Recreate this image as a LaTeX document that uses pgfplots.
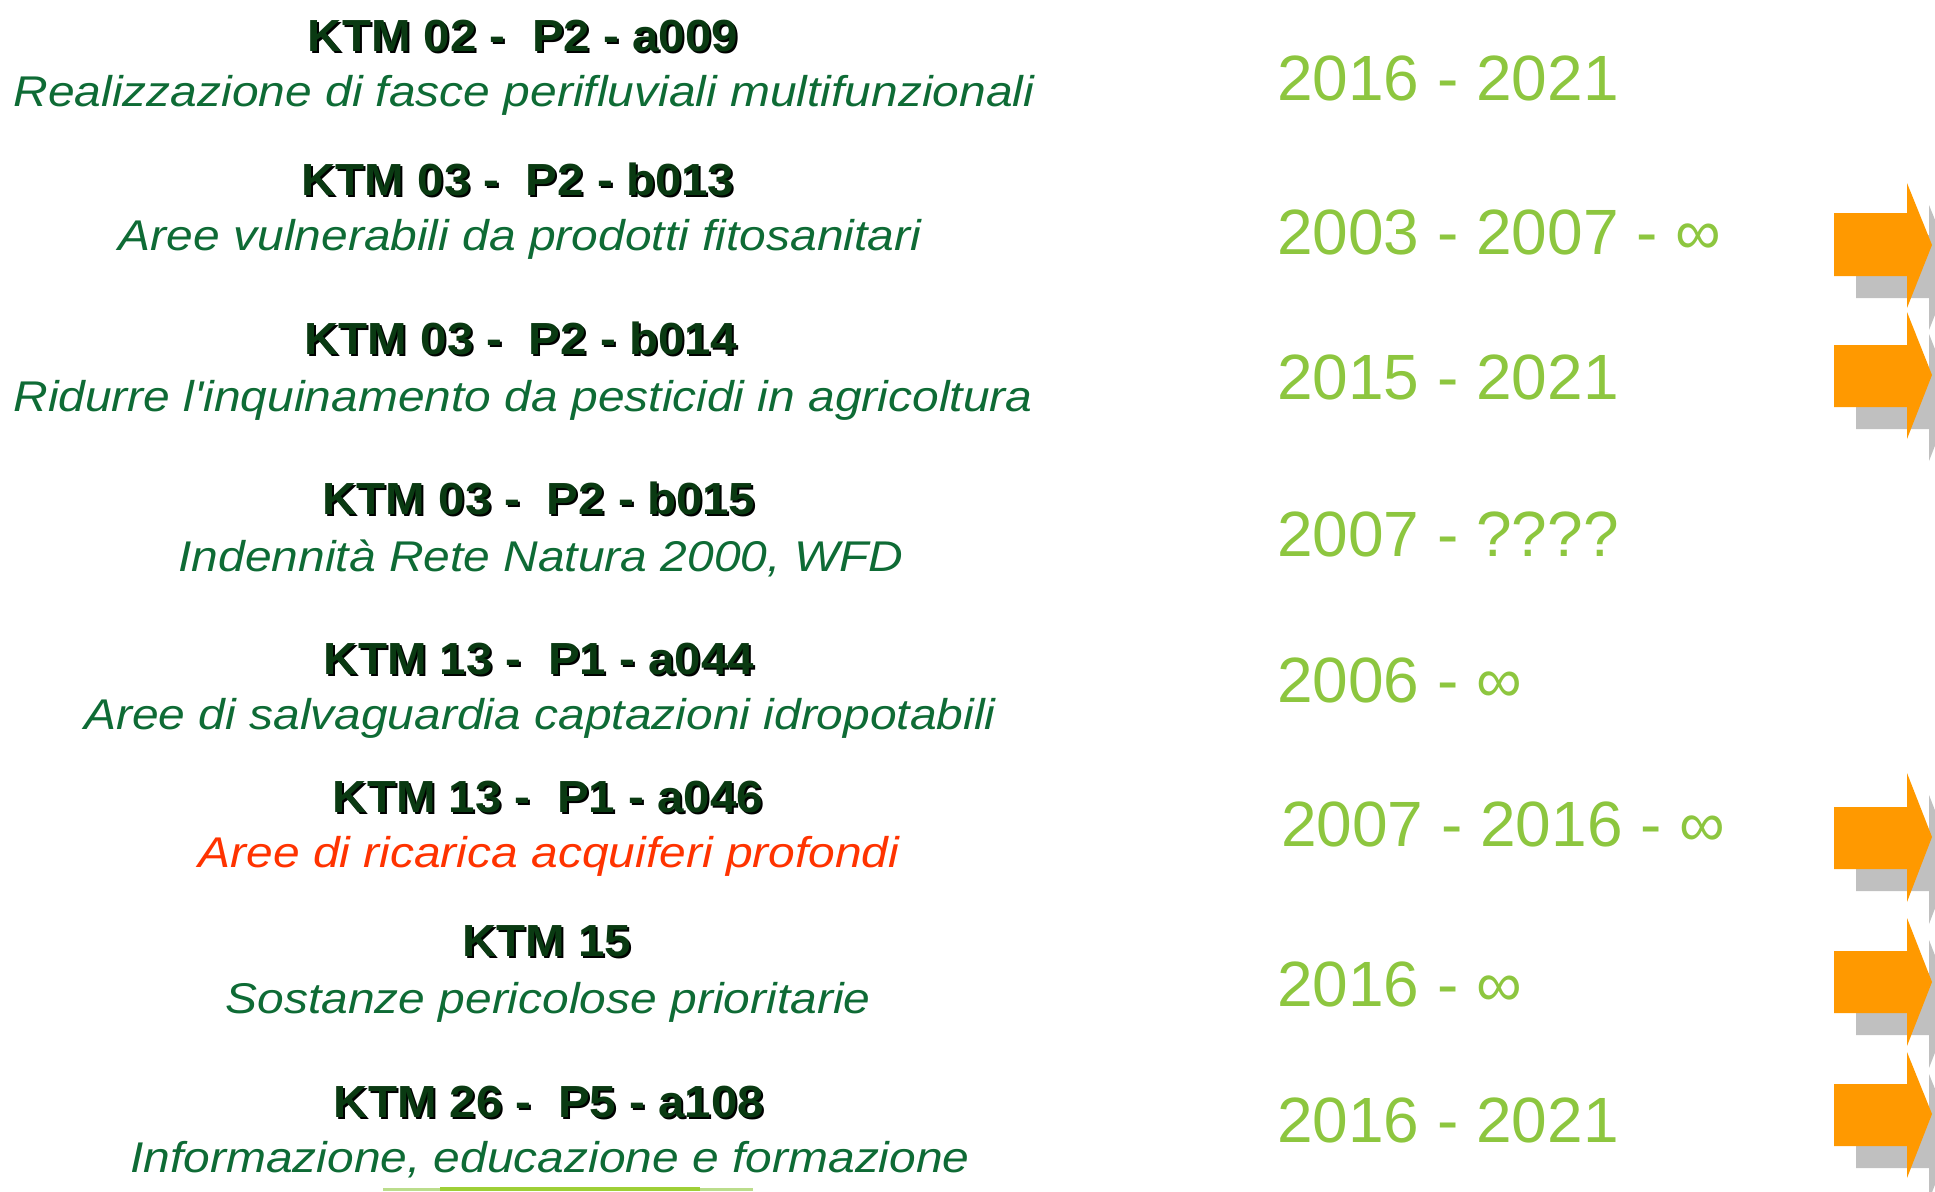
\documentclass[border=0pt]{standalone}
\usepackage{pgfplots}
\pgfplotsset{compat=1.18}
\usepackage{fontspec}
\setmainfont{Liberation Sans}
\definecolor{ktm}{HTML}{0A3A12}
\definecolor{desc}{HTML}{0E6B35}
\definecolor{descred}{HTML}{FF3300}
\definecolor{year}{HTML}{8DC63F}
\definecolor{arrowor}{HTML}{FF9900}
\definecolor{shadowg}{HTML}{C0C0C0}
\newcommand{\ktm}[3]{%
  \node[anchor=base,inner sep=0pt,font=\fontsize{45}{50}\selectfont\bfseries,text=black] at (axis cs:#1+2,#2+2) {\scalebox{1.055}[1]{#3}};
  \node[anchor=base,inner sep=0pt,font=\fontsize{45}{50}\selectfont\bfseries,text=ktm] at (axis cs:#1,#2) {\scalebox{1.055}[1]{#3}};}
\newcommand{\desc}[4]{%
  \node[anchor=base,inner sep=0pt,font=\fontsize{43}{48}\selectfont\itshape,text=#4] at (axis cs:#1,#2) {\scalebox{1.115}[1]{#3}};}
\newcommand{\yr}[3]{%
  \node[anchor=base west,inner sep=0pt,font=\fontsize{64}{70}\selectfont,text=year] at (axis cs:#1,#2) {#3};}
\begin{document}
\begin{tikzpicture}
\begin{axis}[width=1935pt,height=1191pt,scale only axis,
  xmin=0,xmax=1935,ymin=0,ymax=1191,y dir=reverse,hide axis]
\addplot[draw=none] coordinates {(0,0) (1935,1191)};
% arrow shadows (offset 22,22)
\addplot[fill=shadowg,draw=none] coordinates {(1856,235) (1929,235) (1929,205) (1954,267) (1929,330) (1929,298) (1856,298)} --cycle;
\addplot[fill=shadowg,draw=none] coordinates {(1856,367) (1929,367) (1929,334) (1954,397) (1929,461) (1929,429) (1856,429)} --cycle;
\addplot[fill=shadowg,draw=none] coordinates {(1856,829) (1929,829) (1929,795) (1954,859) (1929,924) (1929,891) (1856,891)} --cycle;
\addplot[fill=shadowg,draw=none] coordinates {(1856,973) (1929,973) (1929,940) (1954,1004) (1929,1068) (1929,1035) (1856,1035)} --cycle;
\addplot[fill=shadowg,draw=none] coordinates {(1856,1106) (1929,1106) (1929,1074) (1954,1136) (1929,1200) (1929,1168) (1856,1168)} --cycle;
% orange arrows
\addplot[fill=arrowor,draw=none] coordinates {(1834,213) (1907,213) (1907,183) (1932,245) (1907,308) (1907,276) (1834,276)} --cycle;
\addplot[fill=arrowor,draw=none] coordinates {(1834,345) (1907,345) (1907,312) (1932,375) (1907,439) (1907,407) (1834,407)} --cycle;
\addplot[fill=arrowor,draw=none] coordinates {(1834,807) (1907,807) (1907,773) (1932,837) (1907,902) (1907,869) (1834,869)} --cycle;
\addplot[fill=arrowor,draw=none] coordinates {(1834,951) (1907,951) (1907,918) (1932,982) (1907,1046) (1907,1013) (1834,1013)} --cycle;
\addplot[fill=arrowor,draw=none] coordinates {(1834,1084) (1907,1084) (1907,1052) (1932,1114) (1907,1178) (1907,1146) (1834,1146)} --cycle;
% bottom line (fading ends)
\addplot[draw=year!60,line width=3pt] coordinates {(383,1189) (753,1189)};
\addplot[draw=year!85!yellow,line width=3.5pt] coordinates {(440,1189) (700,1189)};
% texts
\ktm{523}{51}{KTM 02 -~ P2 - a009}
\desc{524}{106}{Realizzazione di fasce perifluviali multifunzionali}{desc}
\yr{1277}{100}{2016 - 2021}
\ktm{518}{195}{KTM 03 -~ P2 - b013}
\desc{520}{250}{Aree vulnerabili da prodotti fitosanitari}{desc}
\yr{1277}{254}{2003 - 2007 - ∞}
\ktm{521}{354}{KTM 03 -~ P2 - b014}
\desc{523}{411}{Ridurre l\textquotesingle inquinamento da pesticidi in agricoltura}{desc}
\yr{1277}{399}{2015 - 2021}
\ktm{539}{514}{KTM 03 -~ P2 - b015}
\desc{541}{571}{Indennità Rete Natura 2000, WFD}{desc}
\yr{1277}{556}{2007 - ????}
\ktm{539}{674}{KTM 13 -~ P1 - a044}
\desc{540}{729}{Aree di salvaguardia captazioni idropotabili}{desc}
\yr{1277}{702}{2006 - ∞}
\ktm{548}{812}{KTM 13 -~ P1 - a046}
\desc{549}{867}{Aree di ricarica acquiferi profondi}{descred}
\yr{1281}{846}{2007 - 2016 - ∞}
\ktm{547}{956}{KTM 15}
\desc{548}{1013}{Sostanze pericolose prioritarie}{desc}
\yr{1277}{1006}{2016 - ∞}
\ktm{549}{1117}{KTM 26 -~ P5 - a108}
\desc{550}{1172}{Informazione, educazione e formazione}{desc}
\yr{1277}{1142}{2016 - 2021}
\end{axis}
\end{tikzpicture}
\end{document}
